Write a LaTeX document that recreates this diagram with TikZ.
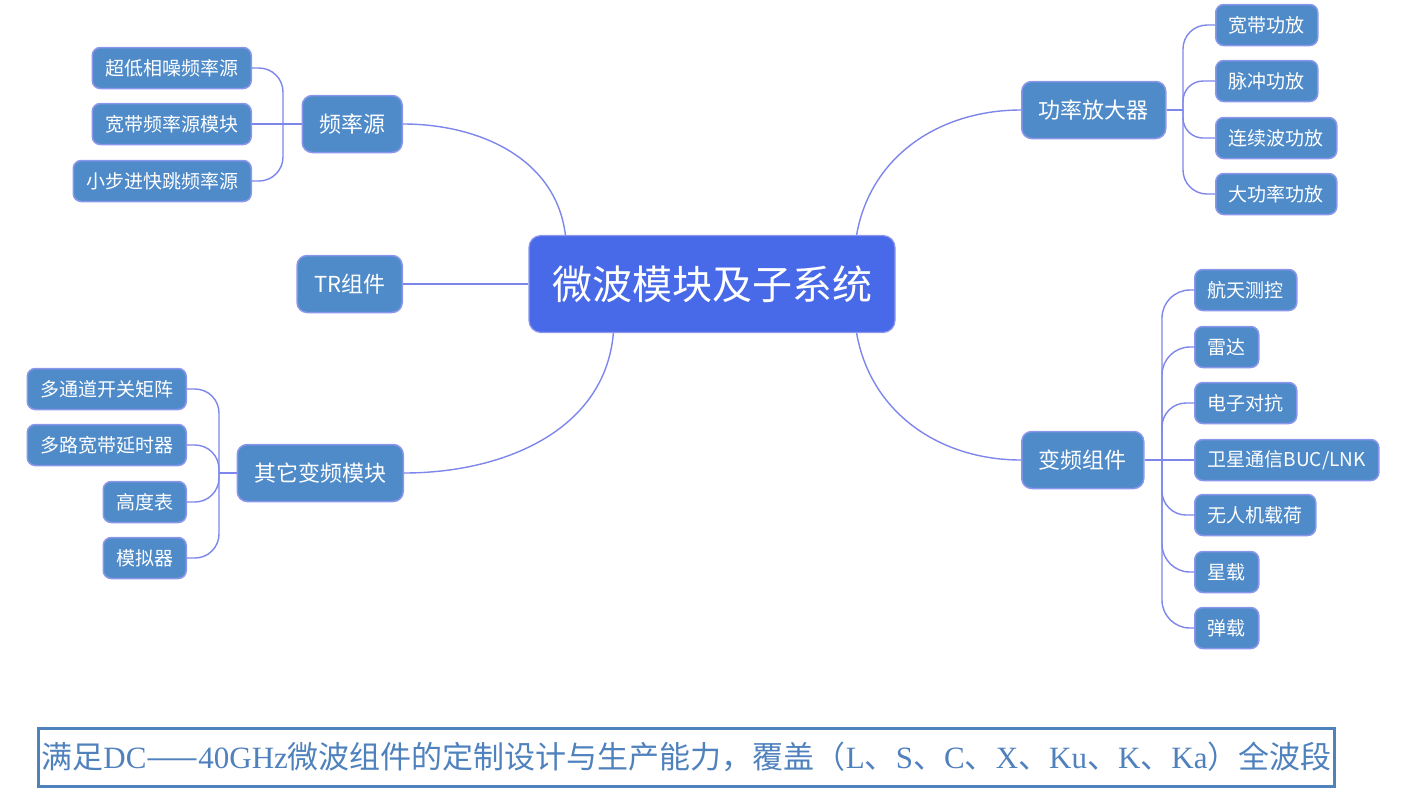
\documentclass[tikz,border=0pt]{standalone}
\usepackage{fontspec}
\usepackage{tikz}
\usetikzlibrary{positioning, calc}
\newfontfamily\cjk{Noto Sans CJK SC}
\newfontfamily\latinserif{Liberation Serif}
\definecolor{rootblue}{RGB}{73,106,232}
\definecolor{nodeblue}{RGB}{79,139,201}
\definecolor{edgeblue}{RGB}{125,134,234}
\definecolor{rimblue}{RGB}{140,150,235}
\definecolor{bandblue}{RGB}{79,129,189}
\tikzstyle{root} = [rectangle, rounded corners=6pt, draw=rimblue, line width=0.6pt, fill=rootblue, text=white, minimum width=183pt, minimum height=48.5pt, font=\cjk\fontsize{20}{24}\selectfont]
\tikzstyle{topic} = [rectangle, rounded corners=5pt, draw=rimblue, line width=0.75pt, fill=nodeblue, text=white, minimum height=28.5pt, inner xsep=8.5pt, font=\cjk\fontsize{11}{13}\selectfont]
\tikzstyle{leaf} = [rectangle, rounded corners=4pt, draw=rimblue, line width=0.75pt, fill=nodeblue, text=white, minimum height=20.5pt, inner xsep=6.5pt, font=\cjk\fontsize{9.5}{11}\selectfont]
\tikzstyle{branch} = [draw=edgeblue, line width=0.7pt]

\begin{document}
\begin{tikzpicture}[x=0.5pt, y=0.5pt]
    \useasboundingbox (0,0) rectangle (1410,-794);

    % Centre
    \node (mw) [root] at (712,-284) {微波模块及子系统};

    % Main topics
    \node (fq) [topic, anchor=east] at (403,-124) {频率源};
    \node (tr) [topic, anchor=east] at (403,-284) {TR组件};
    \node (qt) [topic, anchor=east] at (404,-473) {其它变频模块};
    \node (pa) [topic, anchor=west] at (1021,-110) {功率放大器};
    \node (bp) [topic, anchor=west] at (1021,-460) {变频组件};

    % Leaves left
    \node (fq1) [leaf, anchor=east] at (252,-68) {超低相噪频率源};
    \node (fq2) [leaf, anchor=east] at (252,-124) {宽带频率源模块};
    \node (fq3) [leaf, anchor=east] at (252,-181) {小步进快跳频率源};
    \node (qt1) [leaf, anchor=east] at (187,-389) {多通道开关矩阵};
    \node (qt2) [leaf, anchor=east] at (187,-445) {多路宽带延时器};
    \node (qt3) [leaf, anchor=east] at (187,-502) {高度表};
    \node (qt4) [leaf, anchor=east] at (187,-558) {模拟器};

    % Leaves right
    \node (pa1) [leaf, anchor=west] at (1215,-25) {宽带功放};
    \node (pa2) [leaf, anchor=west] at (1215,-81) {脉冲功放};
    \node (pa3) [leaf, anchor=west] at (1215,-138) {连续波功放};
    \node (pa4) [leaf, anchor=west] at (1215,-194) {大功率功放};
    \node (bp1) [leaf, anchor=west] at (1194,-290) {航天测控};
    \node (bp2) [leaf, anchor=west] at (1194,-347) {雷达};
    \node (bp3) [leaf, anchor=west] at (1194,-403) {电子对抗};
    \node (bp4) [leaf, anchor=west] at (1194,-460) {卫星通信BUC/LNK};
    \node (bp5) [leaf, anchor=west] at (1194,-515) {无人机载荷};
    \node (bp6) [leaf, anchor=west] at (1194,-572) {星载};
    \node (bp7) [leaf, anchor=west] at (1194,-628) {弹载};

    % Junctions
    \coordinate (fqj) at (283,-124);
    \coordinate (qtj) at (219,-473);
    \coordinate (paj) at (1183,-110);
    \coordinate (bpj) at (1162,-460);

    % Centre to main topics
    \draw [branch] ([xshift=18.5pt]mw.north west) to[out=97,in=0] (fq.east);
    \draw [branch] (tr.east) -- (mw.west);
    \draw [branch] ([xshift=42.5pt]mw.south west) to[out=265,in=0] (qt.east);
    \draw [branch] ([xshift=-19.5pt]mw.north east) to[out=80,in=180] (pa.west);
    \draw [branch] ([xshift=-19.5pt]mw.south east) to[out=280,in=180] (bp.west);

    % Main topics to leaves
    \draw [branch] (fq.west) -- (fqj);
    \draw [branch, rounded corners=12pt] (fqj) |- (fq1.east);
    \draw [branch] (fqj) -- (fq2.east);
    \draw [branch, rounded corners=12pt] (fqj) |- (fq3.east);

    \draw [branch] (qt.west) -- (qtj);
    \draw [branch, rounded corners=12pt] (qtj) |- (qt1.east);
    \draw [branch, rounded corners=12pt] (qtj) |- (qt2.east);
    \draw [branch, rounded corners=12pt] (qtj) |- (qt3.east);
    \draw [branch, rounded corners=12pt] (qtj) |- (qt4.east);

    \draw [branch] (pa.east) -- (paj);
    \draw [branch, rounded corners=12pt] (paj) |- (pa1.west);
    \draw [branch, rounded corners=10pt] (paj) |- (pa2.west);
    \draw [branch, rounded corners=10pt] (paj) |- (pa3.west);
    \draw [branch, rounded corners=12pt] (paj) |- (pa4.west);

    \draw [branch] (bp.east) -- (bpj);
    \draw [branch, rounded corners=14pt] (bpj) |- (bp1.west);
    \draw [branch, rounded corners=14pt] (bpj) |- (bp2.west);
    \draw [branch, rounded corners=12pt] (bpj) |- (bp3.west);
    \draw [branch] (bpj) -- (bp4.west);
    \draw [branch, rounded corners=12pt] (bpj) |- (bp5.west);
    \draw [branch, rounded corners=14pt] (bpj) |- (bp6.west);
    \draw [branch, rounded corners=14pt] (bpj) |- (bp7.west);

    % Caption band
    \node (band) [draw=bandblue, line width=1.5pt, minimum width=648pt, minimum height=29pt, inner sep=0pt, text=bandblue, font=\cjk\fontsize{15.5}{18}\selectfont] at (686.5,-757) {满足{\latinserif DC}——{\latinserif 40GHz}微波组件的定制设计与生产能力，覆盖（{\latinserif L}、{\latinserif S}、{\latinserif C}、{\latinserif X}、{\latinserif Ku}、{\latinserif K}、{\latinserif Ka}）全波段};
\end{tikzpicture}
\end{document}
